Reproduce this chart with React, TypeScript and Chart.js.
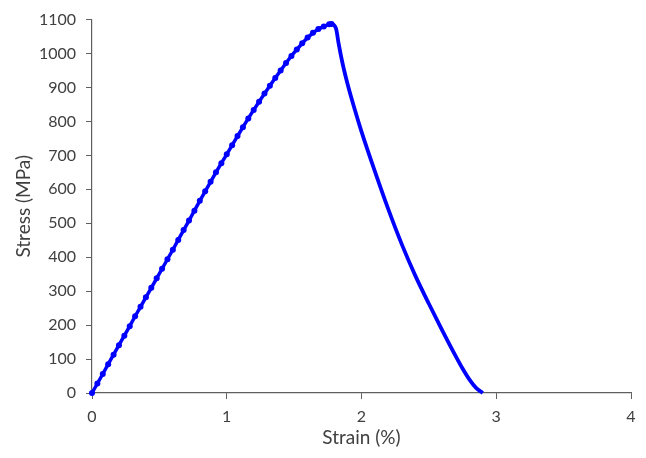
import React, { useEffect, useRef } from "react";
import { Chart, registerables } from "chart.js";

Chart.register(...registerables);

// Loading branch (markers visible)
const loadingStrain = [
  0.0, 0.04, 0.08, 0.12, 0.16, 0.2, 0.24, 0.28, 0.32, 0.36, 0.4, 0.44, 0.48, 0.52, 0.56, 0.6,
  0.64, 0.68, 0.72, 0.76, 0.8, 0.84, 0.88, 0.92, 0.96, 1.0, 1.04, 1.08, 1.12, 1.16, 1.2, 1.24,
  1.28, 1.32, 1.36, 1.4, 1.44, 1.48, 1.52, 1.56, 1.6, 1.64, 1.68, 1.72, 1.76, 1.777,
];
const loadingStress = [
  0, 28, 56, 85, 113, 141, 169, 197, 226, 254, 282, 310, 338, 366, 394, 422,
  451, 480, 508, 537, 566, 594, 622, 650, 677, 703, 730, 757, 783, 809, 834, 858,
  882, 905, 928, 950, 972, 993, 1012, 1030, 1047, 1061, 1072, 1080, 1086, 1087,
];

// Post-peak branch (smooth line)
const softeningStrain = [
  1.777, 1.795, 1.812, 1.83, 1.86, 1.9, 1.95, 2.0, 2.1, 2.2, 2.3, 2.4, 2.5, 2.6, 2.7, 2.75,
  2.8, 2.85, 2.9,
];
const softeningStress = [
  1087, 1084, 1072, 1030, 970, 905, 835, 770, 652, 540, 437, 345, 263, 184, 108, 72,
  40, 15, 0,
];

const xTickValues = [0, 1, 2, 3, 4];
const yTickValues = [0, 100, 200, 300, 400, 500, 600, 700, 800, 900, 1000, 1100];

const xTitle = "Strain (%)";
const yTitle = "Stress (MPa)";

export default function App() {
  const canvasRef = useRef<HTMLCanvasElement | null>(null);

  useEffect(() => {
    const canvas = canvasRef.current;
    if (!canvas) return;

    const loading = loadingStrain.map((x, i) => ({ x, y: loadingStress[i] }));
    const softening = softeningStrain.map((x, i) => ({ x, y: softeningStress[i] }));

    const fontFamily = "Lato, 'Open Sans', sans-serif";
    const axisColor = "#5f5f5f";
    const textColor = "#404040";

    const chart = new Chart(canvas, {
      type: "scatter",
      data: {
        datasets: [
          {
            label: "loading",
            data: loading,
            showLine: true,
            borderColor: "#0000ff",
            backgroundColor: "#0000ff",
            borderWidth: 3.5,
            pointRadius: 3,
            pointBorderWidth: 0,
            pointBackgroundColor: "#0000ff",
            tension: 0,
            clip: false,
          },
          {
            label: "softening",
            data: softening,
            showLine: true,
            borderColor: "#0000ff",
            backgroundColor: "#0000ff",
            borderWidth: 3.8,
            pointRadius: 0,
            cubicInterpolationMode: "monotone",
            clip: false,
          },
        ],
      },
      options: {
        responsive: false,
        animation: false,
        layout: { padding: { left: 0, right: 15, top: 19, bottom: 0 } },
        plugins: {
          legend: { display: false },
          tooltip: { enabled: false },
        },
        scales: {
          x: {
            type: "linear",
            min: 0,
            max: 4,
            afterBuildTicks: (scale: any) => {
              scale.ticks = xTickValues.map((v) => ({ value: v }));
            },
            afterFit: (scale: any) => {
              scale.height = 65;
            },
            ticks: {
              color: textColor,
              font: { family: fontFamily, size: 16 },
              padding: 8,
              maxRotation: 0,
              callback: (v: any) => String(v),
            },
            grid: {
              display: true,
              drawOnChartArea: false,
              drawTicks: true,
              tickLength: 6,
              color: axisColor,
              lineWidth: 1,
            },
            border: { display: true, color: axisColor, width: 1.2 },
            title: {
              display: true,
              text: xTitle,
              color: textColor,
              font: { family: fontFamily, size: 19 },
              padding: { top: 0, bottom: 9 },
            },
          },
          y: {
            type: "linear",
            min: 0,
            max: 1100,
            afterBuildTicks: (scale: any) => {
              scale.ticks = yTickValues.map((v) => ({ value: v }));
            },
            afterFit: (scale: any) => {
              scale.width = 92;
            },
            ticks: {
              color: textColor,
              font: { family: fontFamily, size: 16 },
              padding: 10,
              callback: (v: any) => String(v),
            },
            grid: {
              display: true,
              drawOnChartArea: false,
              drawTicks: true,
              tickLength: 6,
              color: axisColor,
              lineWidth: 1,
            },
            border: { display: true, color: axisColor, width: 1.2 },
            title: {
              display: true,
              text: yTitle,
              color: textColor,
              font: { family: fontFamily, size: 19 },
              padding: { top: 12, bottom: 0 },
            },
          },
        },
      },
    });

    return () => {
      chart.destroy();
    };
  }, []);

  return (
    <div
      style={{
        position: "absolute",
        left: 0,
        top: 0,
        width: 646,
        height: 458,
        background: "#ffffff",
      }}
    >
      <canvas ref={canvasRef} width={646} height={458} style={{ width: 646, height: 458 }} />
    </div>
  );
}
